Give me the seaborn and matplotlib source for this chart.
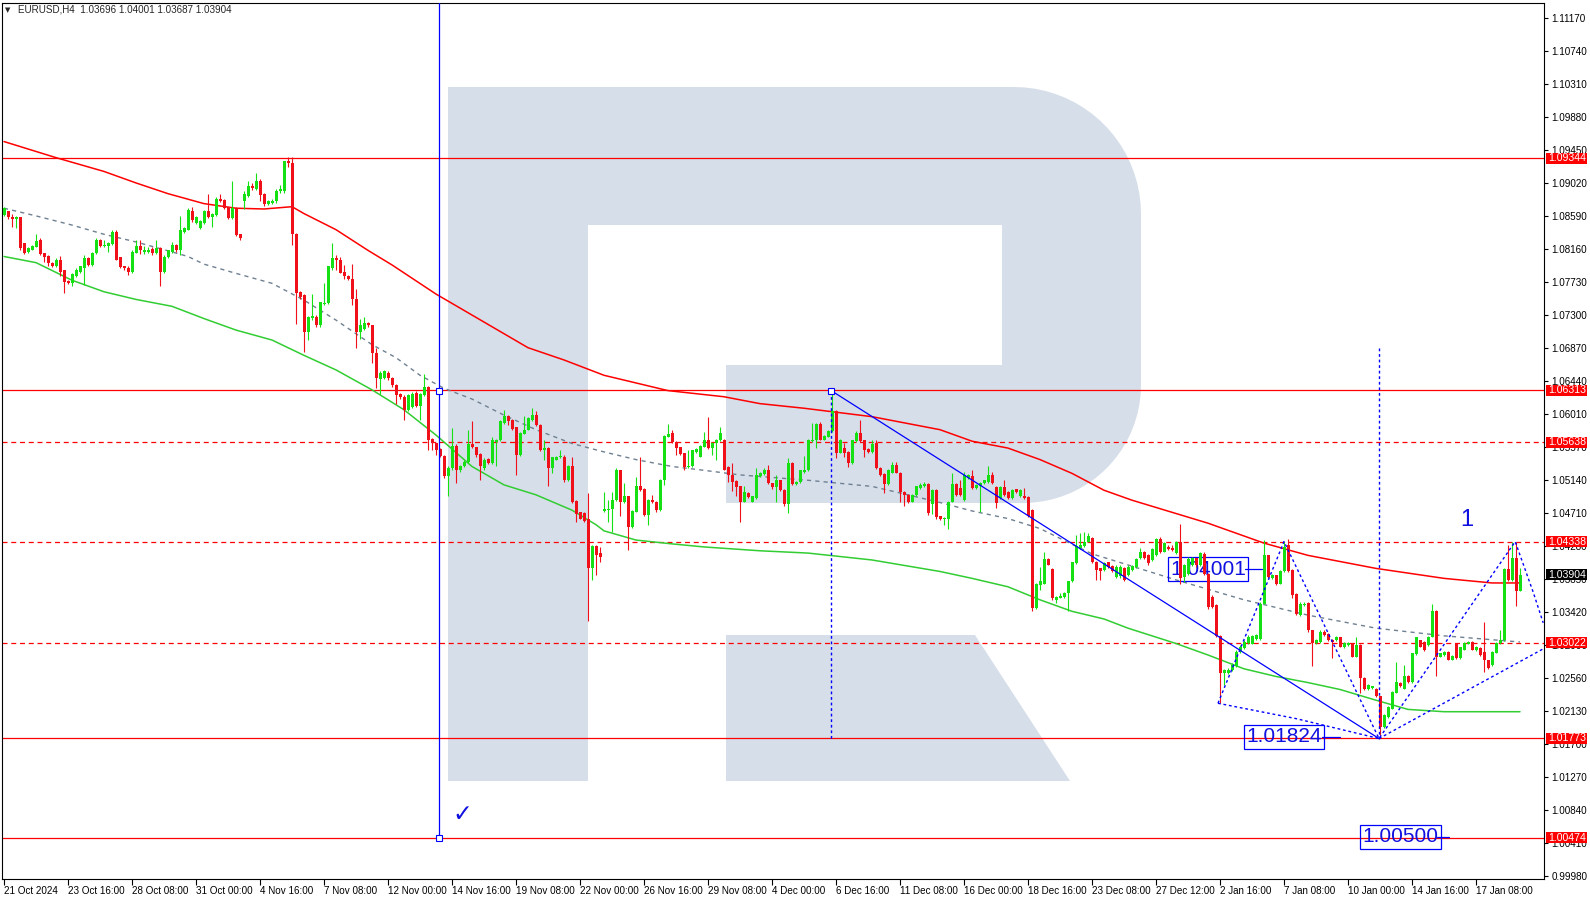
import numpy as np
import pandas as pd
import matplotlib
matplotlib.use("Agg")
import matplotlib.pyplot as plt
import seaborn as sns
from matplotlib import font_manager
from matplotlib.patches import Polygon, Rectangle

# EURUSD H4 candles, prices in 1/10000 (10860 -> 1.0860)
open_pips = [
    10860,10865,10857,10855,10857,10823,10812,10815,10819,10827, 10810,10807,10798,10794,10801,10788,10774,10772,10780,10786,
    10791,10804,10795,10810,10827,10820,10820,10822,10838,10805, 10793,10791,10786,10811,10820,10812,10812,10816,10810,10817,
    10786,10805,10812,10821,10814,10838,10841,10866,10850,10843, 10850,10865,10857,10860,10881,10880,10870,10856,10869,10835,
    10879,10885,10898,10894,10905,10888,10875,10876,10878,10891, 10891,10931,10928,10836,10760,10756,10708,10726,10727,10716,
    10744,10745,10791,10804,10801,10786,10780,10777,10751,10708, 10712,10719,10716,10680,10646,10648,10654,10647,10638,10626,
    10623,10606,10610,10628,10611,10625,10636,10568,10562,10555, 10546,10519,10530,10559,10527,10532,10538,10561,10557,10548,
    10530,10542,10536,10564,10566,10589,10598,10593,10583,10547, 10575,10580,10593,10599,10586,10554,10556,10530,10541,10544,
    10545,10514,10533,10487,10472,10471,10463,10400,10428,10419, 10474,10475,10477,10488,10527,10485,10493,10453,10473,10507,
    10503,10469,10488,10486,10475,10515,10571,10576,10564,10557, 10549,10531,10532,10551,10545,10558,10567,10556,10562,10566,
    10567,10531,10521,10513,10506,10486,10498,10486,10491,10519, 10522,10528,10510,10505,10514,10501,10483,10537,10509,10512,
    10525,10527,10565,10566,10588,10567,10571,10578,10604,10550, 10556,10551,10536,10565,10576,10566,10555,10551,10562,10530,
    10522,10509,10524,10534,10524,10499,10495,10486,10495,10504, 10506,10509,10483,10501,10467,10464,10464,10486,10509,10504,
    10488,10517,10519,10504,10506,10510,10512,10521,10505,10491, 10505,10499,10491,10502,10493,10494,10492,10475,10347,10377,
    10379,10411,10398,10358,10361,10362,10367,10382,10406,10425, 10428,10434,10439,10408,10399,10397,10407,10402,10388,10389,
    10399,10390,10397,10401,10412,10420,10416,10410,10416,10437, 10421,10427,10425,10419,10433,10388,10392,10403,10412,10403,
    10418,10392,10362,10351,10311,10262,10263,10266,10271,10290, 10295,10302,10301,10307,10307,10353,10416,10386,10390,10379,
    10395,10430,10397,10366,10338,10351,10354,10318,10302,10303, 10316,10314,10306,10305,10309,10296,10299,10301,10284,10299,
    10256,10241,10243,10242,10232,10192,10205,10216,10237,10250, 10242,10259,10251,10287,10305,10303,10299,10310,10344,10284,
    10286,10290,10280,10301,10282,10293,10301,10303,10292,10295, 10290,10279,10273,10289,10302,10305,10398,10384,10412,10370,
]
high_pips = [
    10871,10866,10862,10859,10858,10824,10818,10821,10836,10830, 10811,10808,10799,10804,10807,10788,10775,10785,10791,10794,
    10808,10806,10812,10830,10829,10828,10825,10840,10840,10806, 10794,10793,10814,10828,10828,10820,10819,10818,10827,10819,
    10808,10815,10825,10822,10859,10844,10869,10871,10859,10854, 10867,10888,10863,10883,10888,10881,10871,10905,10871,10836,
    10891,10904,10902,10915,10907,10889,10880,10881,10894,10899, 10931,10936,10936,10837,10761,10757,10728,10757,10730,10747,
    10771,10794,10823,10808,10805,10795,10782,10796,10764,10725, 10727,10721,10717,10687,10656,10658,10657,10649,10640,10628,
    10625,10627,10629,10630,10628,10653,10637,10569,10563,10556, 10547,10532,10582,10561,10534,10540,10580,10591,10558,10549,
    10543,10543,10570,10568,10593,10606,10599,10594,10584,10577, 10598,10596,10608,10604,10587,10567,10557,10545,10546,10554,
    10547,10534,10544,10488,10473,10472,10498,10430,10430,10427, 10499,10488,10499,10530,10528,10510,10494,10475,10518,10544,
    10504,10489,10495,10487,10516,10573,10587,10579,10565,10558, 10550,10554,10554,10556,10560,10577,10596,10564,10568,10584,
    10568,10532,10537,10514,10507,10506,10499,10494,10530,10525, 10530,10534,10511,10521,10515,10502,10543,10538,10513,10528,
    10546,10568,10589,10589,10590,10573,10579,10630,10606,10568, 10562,10552,10567,10578,10593,10567,10556,10567,10567,10531,
    10523,10529,10538,10538,10525,10500,10496,10496,10507,10510, 10512,10510,10502,10502,10468,10466,10487,10523,10510,10514,
    10525,10522,10528,10509,10512,10515,10533,10525,10506,10506, 10515,10500,10502,10503,10502,10504,10493,10476,10380,10401,
    10421,10412,10399,10363,10367,10368,10383,10408,10443,10445, 10446,10445,10440,10409,10400,10407,10408,10404,10403,10403,
    10401,10403,10404,10413,10426,10422,10418,10426,10439,10440, 10433,10429,10430,10435,10457,10405,10414,10414,10413,10421,
    10420,10393,10364,10353,10312,10268,10269,10275,10292,10299, 10305,10312,10312,10314,10355,10436,10417,10392,10391,10397,
    10434,10437,10398,10367,10355,10355,10355,10319,10307,10318, 10318,10315,10307,10311,10310,10303,10303,10302,10310,10300,
    10257,10248,10246,10243,10233,10209,10219,10239,10277,10251, 10273,10260,10289,10310,10306,10304,10311,10353,10345,10289,
    10291,10291,10286,10302,10297,10303,10304,10304,10298,10296, 10329,10280,10291,10303,10318,10399,10430,10434,10434,10400,
]
low_pips = [
    10859,10855,10845,10843,10815,10809,10811,10814,10818,10808, 10799,10793,10792,10792,10780,10759,10770,10767,10779,10785,
    10769,10794,10794,10809,10819,10819,10812,10821,10801,10791, 10788,10782,10785,10810,10809,10809,10811,10808,10809,10768,
    10785,10804,10811,10812,10808,10837,10840,10851,10849,10842, 10849,10856,10845,10859,10877,10868,10855,10855,10833,10828,
    10868,10884,10893,10893,10879,10872,10873,10875,10876,10889, 10889,10923,10821,10718,10751,10681,10697,10723,10714,10714,
    10743,10744,10789,10788,10784,10777,10775,10743,10686,10698, 10710,10714,10667,10635,10627,10646,10645,10636,10614,10620,
    10593,10604,10608,10609,10593,10624,10554,10554,10547,10544, 10517,10494,10528,10510,10525,10531,10537,10556,10545,10515,
    10528,10535,10535,10532,10565,10587,10586,10580,10521,10546, 10574,10579,10592,10585,10552,10541,10506,10523,10540,10543,
    10512,10513,10484,10460,10463,10460,10330,10384,10390,10408, 10473,10460,10447,10487,10467,10484,10423,10452,10472,10500,
    10468,10455,10484,10473,10474,10508,10570,10563,10547,10547, 10527,10530,10531,10550,10544,10557,10555,10547,10540,10565,
    10527,10512,10500,10494,10459,10485,10491,10485,10490,10518, 10521,10509,10503,10486,10500,10480,10471,10508,10508,10511,
    10524,10526,10564,10556,10566,10566,10570,10577,10543,10549, 10545,10531,10535,10564,10564,10545,10550,10550,10529,10520,
    10497,10508,10523,10523,10486,10480,10484,10485,10494,10503, 10505,10469,10470,10464,10462,10456,10451,10485,10494,10494,
    10487,10516,10503,10503,10473,10509,10511,10509,10478,10490, 10494,10490,10490,10498,10492,10490,10466,10343,10346,10371,
    10378,10403,10358,10354,10360,10361,10343,10381,10405,10424, 10427,10433,10406,10384,10384,10396,10400,10394,10386,10387,
    10382,10389,10396,10400,10411,10411,10404,10409,10415,10419, 10420,10423,10422,10418,10379,10381,10391,10402,10401,10402,
    10390,10346,10347,10309,10223,10247,10261,10265,10270,10289, 10294,10301,10300,10306,10306,10352,10386,10385,10377,10378,
    10394,10394,10360,10338,10337,10350,10316,10271,10301,10302, 10311,10304,10282,10304,10296,10295,10298,10283,10283,10236,
    10240,10240,10242,10231,10182,10191,10204,10215,10236,10244, 10241,10250,10250,10286,10296,10291,10298,10309,10258,10283,
    10285,10279,10279,10281,10281,10292,10300,10292,10291,10285, 10264,10268,10272,10288,10301,10304,10383,10383,10350,10369,
]
close_pips = [
    10869,10857,10855,10857,10817,10811,10817,10820,10826,10809, 10805,10797,10794,10801,10786,10773,10772,10783,10788,10793,
    10804,10795,10810,10828,10820,10821,10823,10838,10802,10792, 10791,10786,10812,10820,10814,10814,10814,10810,10817,10786,
    10806,10814,10821,10814,10841,10843,10867,10853,10857,10852, 10865,10857,10861,10881,10878,10869,10856,10869,10834,10830,
    10888,10898,10895,10905,10886,10875,10878,10879,10892,10894, 10930,10928,10835,10758,10753,10708,10727,10728,10716,10746,
    10745,10793,10804,10801,10785,10780,10777,10751,10708,10717, 10719,10716,10680,10647,10654,10656,10647,10638,10625,10623,
    10606,10625,10627,10611,10627,10636,10567,10562,10554,10546, 10519,10530,10559,10527,10532,10538,10561,10557,10547,10532,
    10541,10536,10566,10567,10591,10598,10592,10581,10547,10576, 10580,10595,10599,10586,10554,10556,10530,10544,10545,10546,
    10514,10533,10486,10470,10464,10461,10400,10428,10417,10414, 10477,10477,10488,10527,10486,10493,10453,10474,10507,10501,
    10469,10488,10485,10475,10515,10572,10575,10564,10556,10548, 10531,10533,10553,10555,10559,10567,10556,10563,10567,10576,
    10528,10521,10512,10505,10486,10499,10492,10493,10521,10523, 10528,10510,10505,10514,10501,10483,10536,10509,10512,10527,
    10528,10567,10567,10588,10567,10572,10578,10604,10550,10567, 10550,10536,10566,10576,10565,10553,10551,10561,10530,10521,
    10509,10528,10534,10524,10499,10495,10486,10495,10506,10508, 10509,10471,10501,10466,10464,10465,10486,10509,10495,10495,
    10521,10521,10504,10508,10511,10514,10521,10510,10484,10505, 10495,10491,10501,10499,10501,10491,10467,10347,10379,10382,
    10411,10404,10360,10362,10363,10367,10382,10407,10428,10430, 10434,10441,10407,10397,10396,10406,10401,10395,10401,10401,
    10384,10401,10402,10411,10421,10412,10406,10424,10437,10420, 10432,10424,10423,10433,10386,10403,10411,10412,10403,10419,
    10392,10348,10349,10311,10263,10266,10267,10273,10290,10297, 10303,10310,10311,10312,10353,10416,10388,10390,10379,10395,
    10427,10395,10364,10340,10353,10353,10318,10302,10305,10316, 10312,10305,10303,10310,10297,10302,10302,10284,10299,10256,
    10241,10247,10245,10232,10192,10208,10218,10238,10251,10245, 10258,10251,10288,10309,10297,10292,10310,10343,10284,10288,
    10290,10280,10285,10282,10296,10302,10303,10293,10297,10286, 10279,10269,10290,10302,10305,10398,10384,10412,10369,10390,
]

# moving averages (bar index, price)
red_ma_bar = [0, 13, 25, 33, 41, 50, 58, 65, 72, 75, 83, 91, 97, 108, 131, 140, 150, 166, 180, 189,
              200, 217, 234, 242, 251, 259, 267, 275, 282, 301, 315, 326, 343, 360, 372, 379]
red_ma_val = [1.0956, 1.0935, 1.0917, 1.0902, 1.0888, 1.0875, 1.0869, 1.0868, 1.0871, 1.0862, 1.0841, 1.0814,
              1.0795, 1.0757, 1.0687, 1.0671, 1.0651, 1.0631, 1.0623, 1.0614, 1.0608, 1.0597, 1.0580, 1.0565,
              1.0556, 1.0541, 1.0523, 1.0501, 1.0488, 1.0458, 1.0432, 1.0416, 1.0399, 1.0386, 1.0380, 1.0380]
gray_ma_bar = [0, 8, 17, 25, 33, 42, 46, 50, 58, 67, 75, 83, 92, 98, 104, 110, 117, 125, 133, 142, 150,
               158, 167, 175, 184, 201, 217, 226, 234, 242, 251, 259, 266, 272, 277, 293, 310, 326, 343, 360, 379]
gray_ma_val = [1.0869, 1.0859, 1.0847, 1.0835, 1.0825, 1.0812, 1.0806, 1.0796, 1.0784, 1.0771, 1.0749, 1.0723,
               1.0691, 1.0674, 1.0651, 1.0634, 1.0620, 1.0599, 1.0580, 1.0562, 1.0551, 1.0541, 1.0532, 1.0527,
               1.0521, 1.0514, 1.0506, 1.0495, 1.0485, 1.0474, 1.0464, 1.0451, 1.0433, 1.0418, 1.0410, 1.0384,
               1.0358, 1.0338, 1.0321, 1.0311, 1.0303]
green_ma_bar = [0, 8, 17, 25, 33, 42, 50, 58, 67, 75, 83, 92, 100, 108, 117, 125, 133, 142, 148, 150, 158,
                167, 175, 189, 201, 217, 234, 242, 251, 259, 267, 275, 281, 293, 301, 310, 318, 326, 334, 343,
                351, 360, 379]
green_ma_val = [1.0806, 1.0798, 1.0775, 1.0760, 1.0750, 1.0741, 1.0725, 1.0710, 1.0697, 1.0677, 1.0658, 1.0632,
                1.0606, 1.0573, 1.0532, 1.0508, 1.0495, 1.0475, 1.0456, 1.0448, 1.0436, 1.0431, 1.0427, 1.0422,
                1.0419, 1.0410, 1.0395, 1.0386, 1.0375, 1.0358, 1.0343, 1.0333, 1.0321, 1.0301, 1.0286, 1.0268,
                1.0258, 1.0250, 1.0241, 1.0227, 1.0215, 1.0212, 1.0212]

# horizontal levels
solid_levels = [1.09344, 1.06313, 1.01773, 1.00474]
dashed_levels = [1.05638, 1.04338, 1.03022]
last_price = 1.03904

# axis labels
date_labels = ["21 Oct 2024", "23 Oct 16:00", "28 Oct 08:00", "31 Oct 00:00", "4 Nov 16:00", "7 Nov 08:00",
               "12 Nov 00:00", "14 Nov 16:00", "19 Nov 08:00", "22 Nov 00:00", "26 Nov 16:00", "29 Nov 08:00",
               "4 Dec 00:00", "6 Dec 16:00", "11 Dec 08:00", "16 Dec 00:00", "18 Dec 16:00", "23 Dec 08:00",
               "27 Dec 12:00", "2 Jan 16:00", "7 Jan 08:00", "10 Jan 00:00", "14 Jan 16:00", "17 Jan 08:00"]
date_bars = list(range(0, 369, 16))
price_labels = ["0.99980", "1.00410", "1.00840", "1.01270", "1.01700", "1.02130", "1.02560", "1.02990",
                "1.03420", "1.03850", "1.04280", "1.04710", "1.05140", "1.05570", "1.06010", "1.06440",
                "1.06870", "1.07300", "1.07730", "1.08160", "1.08590", "1.09020", "1.09450", "1.09880",
                "1.10310", "1.10740", "1.11170"]

# analyst drawings (bar, price)
vline_bar, vline_low = 108.75, 1.00474
trend_bar = [206.8, 343.75]
trend_val = [1.0631, 1.0177]
wave_bar = [303.5, 320, 343.75, 377.8, 382.3, 384.8]
wave_val = [1.0223, 1.0434, 1.0177, 1.0434, 1.0368, 1.0328]
base_bar = [303.5, 323, 343.75]
base_val = [1.0223, 1.0203, 1.0177]
fan_bar = [343.75, 384.8]
fan_val = [1.0177, 1.0294]
boxes = [("1.04001", 301, 1.03976), ("1.01824", 320, 1.01790), ("1.00500", 349, 1.00491)]

sns.set_style("ticks")
names = {f.name for f in font_manager.fontManager.ttflist}
narrow = "Liberation Sans Narrow" if "Liberation Sans Narrow" in names else "Liberation Sans"
plt.rcParams["font.family"] = [narrow, "DejaVu Sans"]
FS = 7.1

W, H = 1590, 900
fig = plt.figure(figsize=(W / 100, H / 100), dpi=100)
ax = fig.add_axes([2 / W, 21 / H, 1542 / W, 876 / H])
ax.set_facecolor("white")

# watermark "R" (pixel coordinates of the picture, drawn under everything)
def px(pts):
    return [(x / W, 1 - y / H) for x, y in pts]

def arc(cx, cy, r, a0, a1, n=20):
    t = np.radians(np.linspace(a0, a1, n))
    return [(cx + r * np.cos(a), cy - r * np.sin(a)) for a in t]

wm = "#D6DEE9"
outer = [(448, 87)] + arc(1014, 214, 127, 90, 0) + arc(1023, 385, 118, 0, -90) + [(588, 503), (588, 781), (448, 781)]
ax.add_patch(Polygon(px(outer), closed=True, fc=wm, ec="none", transform=fig.transFigure, zorder=0.2))
for x0, y0, x1, y1 in [(588, 225, 1002, 365), (588, 365, 726, 781)]:
    ax.add_patch(Polygon(px([(x0, y0), (x1, y0), (x1, y1), (x0, y1)]), closed=True, fc="white",
                         ec="none", transform=fig.transFigure, zorder=0.3))
leg = [(726, 635), (975, 635), (1070, 781), (726, 781)]
ax.add_patch(Polygon(px(leg), closed=True, fc=wm, ec="none", transform=fig.transFigure, zorder=0.4))

# candles
df = pd.DataFrame({"o": open_pips, "h": high_pips, "l": low_pips, "c": close_pips}) / 10000
df["bar"] = np.arange(len(df))
df["h"] = df[["h", "o", "c"]].max(axis=1)
df["l"] = df[["l", "o", "c"]].min(axis=1)
up = df["c"] >= df["o"]
colors = np.where(up, "#14E014", "#F0101A")
ax.vlines(df["bar"], df["l"], df["h"], colors=colors, lw=0.8, zorder=5)
body = (df["c"] - df["o"]).abs().clip(lower=0.00013)
ax.bar(df["bar"], body, bottom=np.minimum(df["o"], df["c"]), width=0.75, color=colors, lw=0, zorder=5)

# moving averages
sns.lineplot(x=red_ma_bar, y=red_ma_val, ax=ax, color="#FF0000", lw=1.1, zorder=3)
sns.lineplot(x=green_ma_bar, y=green_ma_val, ax=ax, color="#32CD32", lw=1.1, zorder=3)
ax.plot(gray_ma_bar, gray_ma_val, color="#6F8091", lw=1.0, ls=(0, (3, 3)), zorder=3)

# levels
for y in solid_levels:
    ax.axhline(y, color="#FF0000", lw=0.9, zorder=2)
for y in dashed_levels:
    ax.axhline(y, color="#FF0000", lw=0.9, ls=(0, (4, 3)), zorder=2)

# drawings
blue = "#0000FF"
ax.plot([vline_bar, vline_bar], [vline_low, 1.1137], color=blue, lw=0.9, zorder=6)
ax.plot([vline_bar, vline_bar], [1.0631, vline_low], ls="none", marker="s", ms=4, mfc="white", mec=blue, mew=0.8, zorder=7)
ax.plot(trend_bar, trend_val, color=blue, lw=0.9, zorder=6)
ax.plot(trend_bar[:1], trend_val[:1], ls="none", marker="s", ms=4, mfc="white", mec=blue, mew=0.8, zorder=7)
dash = (0, (2, 2))
ax.plot([trend_bar[0]] * 2, [1.0631, 1.0177], color=blue, lw=1.0, ls=dash, zorder=6)
ax.plot([trend_bar[1]] * 2, [1.0687, 1.0177], color=blue, lw=1.0, ls=dash, zorder=6)
for xs, ys in [(wave_bar, wave_val), (base_bar, base_val), (fan_bar, fan_val)]:
    ax.plot(xs, ys, color=blue, lw=1.0, ls=dash, zorder=6)

for txt, bx, by in boxes:
    ax.text(bx, by, txt, fontsize=15, family=["Liberation Sans", "DejaVu Sans"], color="#1010E0",
            ha="center", va="center", zorder=4,
            bbox=dict(boxstyle="square,pad=0.12", fc="none", ec=blue, lw=0.9))
ax.plot([310.3, 314.5], [1.03976, 1.03976], color=blue, lw=0.9, zorder=4)
ax.plot([329.5, 334], [1.0179, 1.0179], color=blue, lw=0.9, zorder=4)
ax.plot([358.3, 361.2], [1.00491, 1.00491], color=blue, lw=0.9, zorder=4)
ax.text(365.75, 1.0462, "1", fontsize=17, family=["Liberation Sans", "DejaVu Sans"], color="#1010E0",
        ha="center", va="center", zorder=7)
ax.text(114.5, 1.00785, "\u2713", fontsize=17, family="DejaVu Sans", color="#1010E0",
        ha="center", va="center", zorder=7)

# axes
ax.set_xlim(-0.5, 385)
ax.set_ylim(0.99937, 1.11368)
ax.set_yticks([float(v) for v in price_labels])
ax.set_yticklabels(price_labels)
ax.set_xticks(date_bars)
ax.set_xticklabels(date_labels, ha="left")
ax.tick_params(axis="y", left=False, right=True, labelleft=False, labelright=True,
               length=3, width=0.8, pad=2.5, labelsize=FS, colors="black")
ax.tick_params(axis="x", bottom=True, length=4, width=0.8, pad=0.8, labelsize=FS, colors="black")
for s in ax.spines.values():
    s.set_color("black")
    s.set_linewidth(0.8)
    s.set_visible(True)

# price tags on the right scale
tag_h = 11 / 7663
ytr = ax.get_yaxis_transform()
tags = [(v, "#FF0000") for v in solid_levels + dashed_levels] + [(last_price, "#000000")]
for v, fc in tags:
    ax.add_patch(Rectangle((1.0013, v - tag_h / 2), 0.0266, tag_h, transform=ytr, fc=fc, ec="none",
                           clip_on=False, zorder=10))
    ax.text(1.0030, v, f"{v:.5f}", transform=ytr, color="white", fontsize=7.6, ha="left", va="center",
            clip_on=False, zorder=11)

fig.text(5 / W, 1 - 10 / H, "\u25BC", fontsize=5, family="DejaVu Sans", va="center", ha="left")
fig.text(18 / W, 1 - 10 / H, "EURUSD,H4  1.03696 1.04001 1.03687 1.03904", fontsize=FS, va="center", ha="left")

fig.savefig("out.png", dpi=100)
